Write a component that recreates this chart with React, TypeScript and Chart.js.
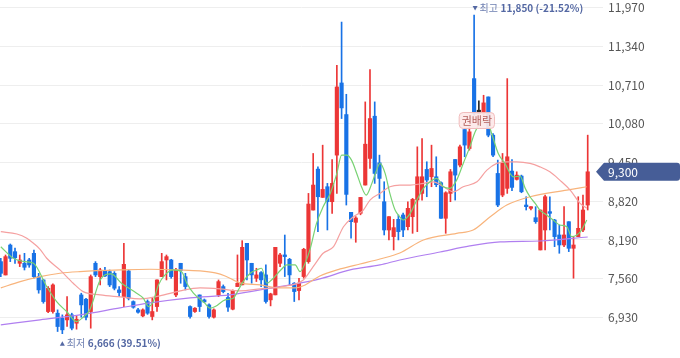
import React, { useEffect, useRef } from "react";
import { Chart, registerables } from "chart.js";

Chart.register(...registerables);

// ---- Daily candles (KRW) ----
const opens = [
  7838, 7621, 8108, 8000, 7811, 7811, 7865, 7973, 7594, 7540,
  7026, 7026, 6999, 6918, 6890, 6972, 6836, 7296, 7226, 7026,
  7811, 7594, 7692, 7675, 7648, 7378, 7269, 7686, 7188, 7053,
  6955, 7188, 6945, 7107, 7594, 7865, 7865, 7296, 7811, 7594,
  7107, 7026, 7296, 7215, 7134, 6934, 7296, 7432, 7254, 7064,
  7432, 7460, 8136, 7811, 7568, 7660, 7622, 7216, 7297, 7811,
  7947, 7876, 7487, 7367, 7595, 7838, 8677, 9343, 8883, 9057,
  8813, 9571, 10745, 10231, 8640, 8477, 8624, 9084, 9517, 10204,
  9446, 8813, 8353, 8245, 8526, 8597, 8407, 8569, 8840, 8948,
  9338, 9219, 9219, 9122, 8543, 8948, 9500, 9409, 9988, 9679,
  10816, 10302, 10248, 10518, 9896, 9273, 8921, 9030, 9311, 9176,
  9230, 8759, 8705, 8553, 8028, 8353, 8651, 8515, 8272, 8109,
  8488, 8055, 8245, 8353, 8759,
];
const highs = [
  7892, 7946, 8125, 8060, 7946, 7973, 7892, 8027, 7648, 7551,
  7432, 7475, 7053, 6972, 7269, 6999, 6955, 7324, 7242, 7621,
  7838, 7730, 7746, 7702, 7675, 7432, 8135, 7702, 7200, 7080,
  7070, 7215, 7242, 7540, 7973, 7946, 7876, 7730, 7811, 7648,
  7118, 7090, 7296, 7230, 7150, 7070, 7540, 7459, 7324, 7378,
  7947, 8179, 8136, 7811, 7730, 7676, 7784, 7324, 8071, 7974,
  8271, 7892, 7497, 7568, 8055, 8948, 9598, 9381, 9733, 9111,
  9500, 11032, 11736, 10561, 8640, 8570, 8883, 10437, 10962, 10437,
  9571, 9138, 8570, 8526, 8597, 8630, 8813, 8867, 9706, 9842,
  9463, 9733, 9544, 9138, 8975, 9338, 9500, 9733, 9988, 10031,
  11850, 10453, 10545, 10518, 9923, 9490, 9598, 10816, 9500, 9300,
  9246, 8894, 8732, 8732, 8678, 8921, 8894, 8526, 8434, 8732,
  8488, 8245, 8894, 8921, 9896,
];
const lows = [
  7594, 7621, 7838, 7810, 7757, 7702, 7746, 7567, 7324, 7161,
  7009, 7000, 6701, 6666, 6782, 6728, 6739, 6934, 6890, 6755,
  7594, 7459, 7594, 7432, 7378, 7270, 7107, 7215, 7080, 6999,
  6940, 6980, 6890, 7026, 7594, 7540, 7567, 7269, 7486, 7378,
  6918, 7010, 7026, 7170, 6918, 6920, 7269, 7330, 7026, 7053,
  7432, 7460, 7541, 7487, 7514, 7432, 7162, 7118, 7297, 7757,
  7595, 7460, 7189, 7216, 7568, 7811, 8677, 8326, 8883, 8353,
  8624, 8948, 10166, 8759, 8218, 8153, 8600, 9084, 9354, 9111,
  8867, 8272, 8190, 8028, 8191, 8245, 8353, 8299, 8326, 8840,
  8894, 9057, 9057, 8543, 8299, 8813, 8840, 9381, 9544, 9652,
  10220, 10248, 10220, 9869, 9544, 8732, 8894, 8948, 8992, 9165,
  8959, 8678, 8678, 8461, 8028, 8028, 8353, 8082, 7974, 8082,
  8001, 7568, 8245, 8326, 8678,
];
const closes = [
  7648, 7919, 7892, 7900, 7865, 7746, 7784, 7594, 7378, 7188,
  7405, 7459, 6782, 6728, 6972, 6755, 6901, 7134, 6934, 7594,
  7621, 7702, 7605, 7459, 7405, 7335, 7794, 7242, 7096, 7015,
  7053, 6999, 7026, 7540, 7838, 7919, 7594, 7702, 7692, 7432,
  6945, 7080, 7107, 7183, 6945, 7053, 7513, 7350, 7097, 7367,
  7486, 8071, 7865, 7622, 7622, 7541, 7189, 7313, 8071, 7947,
  7920, 7622, 7351, 7487, 8039, 8775, 9084, 8894, 9013, 8813,
  9111, 10680, 10339, 8932, 8488, 8548, 8883, 9749, 10166, 9273,
  9192, 8353, 8570, 8391, 8326, 8353, 8705, 8851, 9219, 9219,
  9165, 9354, 9090, 8543, 8959, 9300, 9246, 9706, 9734, 9950,
  10248, 10248, 10421, 9896, 9571, 8759, 9450, 9544, 9046, 9246,
  8975, 8732, 8732, 8488, 8678, 8894, 8624, 8245, 8109, 8272,
  8055, 8109, 8380, 8678, 9300,
];
const exRightsIndex = 101;
const exRightsLabel = "권배락";

// ---- Axis ticks ----
const yTicks = [6930, 7560, 8190, 8820, 9450, 10080, 10710, 11340, 11970];
const yMin = 6270;
const yMax = 12095;

// ---- Moving averages (candle position, value) ----
const ma5Idx = [0, 2.65, 5.1, 6.9, 9.7, 11.8, 13.9, 16, 17.4, 18.8, 21, 23.3, 25.5, 28.7, 30.1, 31.2, 32.2, 33.3, 34.7, 36.4, 38.2, 39.3, 40.7, 43.1, 44.2, 45.3, 47.4, 49.1, 50.2, 51.2, 52.7, 54.1, 55.1, 56.2, 57.2, 59.3, 60.4, 62.2, 63.2, 64.3, 65.3, 66.7, 68.1, 69.6, 71, 72, 73.1, 74.1, 75.2, 76.2, 77.2, 78.4, 79.4, 80.1, 81.2, 82.2, 83.3, 84.3, 85, 86.5, 87.9, 89.3, 90.7, 92.1, 93.5, 94.9, 96.3, 97.7, 99.1, 100.2, 101.2, 102.7, 103.7, 105.1, 106.5, 108.3, 109.7, 110.8, 111.8, 112.9, 113.9, 115.3, 116.7, 118.1, 119.6, 120.6, 121.7, 122.7, 123.8];
const ma5Val = [8081, 7893, 7838, 7811, 7432, 7188, 7026, 6863, 6934, 7053, 7540, 7640, 7487, 7324, 7243, 7107, 7188, 7459, 7622, 7703, 7675, 7487, 7324, 7162, 7081, 7107, 7216, 7243, 7378, 7513, 7649, 7703, 7730, 7487, 7540, 7714, 7784, 7784, 7675, 7812, 8028, 8461, 8731, 8948, 9273, 9570, 9570, 9489, 9273, 9056, 8921, 9111, 9327, 9436, 9273, 8948, 8677, 8568, 8515, 8624, 8840, 9030, 9137, 9192, 9056, 9030, 9164, 9436, 9705, 9949, 10085, 10139, 9923, 9598, 9436, 9218, 9229, 9030, 8893, 8786, 8677, 8596, 8515, 8434, 8406, 8244, 8271, 8352, 8515];
const ma20Idx = [0, 3.4, 5.5, 6.9, 8.3, 9.7, 12.5, 15.3, 17.4, 21, 25.2, 29.4, 33.6, 37.9, 42.1, 46.3, 50.5, 54.8, 59, 63.9, 66, 68.1, 70.3, 72.4, 74.5, 76.6, 78, 80.1, 82.2, 84.3, 86.5, 89.3, 91.4, 93.5, 95.6, 97.7, 100.6, 102.7, 104.8, 106.9, 109, 111.8, 113.9, 116, 118.1, 120.3, 122.4, 123.8];
const ma20Val = [8325, 8287, 8218, 8136, 8039, 7893, 7703, 7487, 7350, 7297, 7264, 7232, 7281, 7362, 7410, 7394, 7362, 7394, 7427, 7540, 7756, 7974, 8081, 8406, 8568, 8677, 8840, 8948, 9056, 9083, 9083, 9111, 9137, 9056, 8974, 9056, 9137, 9327, 9436, 9462, 9462, 9436, 9380, 9299, 9164, 9002, 8786, 8705];
const ma60Idx = [0, 4.1, 8.3, 12.5, 16.7, 25.2, 31.5, 37.9, 42.1, 45.3, 47.4, 50.5, 54.8, 59, 62.2, 64.3, 67.4, 71.7, 75.9, 80.1, 84.3, 89.3, 96.3, 99.8, 103.4, 106.9, 111.8, 119.6, 123.8];
const ma60Val = [7410, 7513, 7594, 7649, 7675, 7703, 7714, 7703, 7687, 7654, 7605, 7492, 7459, 7410, 7410, 7459, 7605, 7719, 7800, 7881, 7979, 8190, 8299, 8352, 8568, 8758, 8893, 9002, 9056];
const ma120Idx = [0, 8.3, 16.7, 25.2, 31.5, 40, 48.4, 54.8, 61.1, 67.4, 73.8, 80.1, 84.3, 92.8, 99.1, 105.5, 113.9, 124];
const ma120Val = [6810, 6891, 6972, 7086, 7167, 7248, 7297, 7378, 7459, 7557, 7703, 7784, 7865, 7995, 8093, 8158, 8174, 8239];

const RED = "#ec3636";
const BLUE = "#1872e6";
const DARK = "#2a2a2a";
const GREEN = "#78d273";
const PINK = "#f5a0a0";
const ORANGE = "#f8b47c";
const PURPLE = "#b07ff0";
const TAG = "#465d97";
const NOTE = "#5468a3";
const KFONT = "'Noto Sans CJK KR', 'Noto Sans', sans-serif";

const fmt = (v: number) => v.toLocaleString("en-US");

export default function App() {
  const ref = useRef<HTMLCanvasElement>(null);

  useEffect(() => {
    const canvas = ref.current;
    if (!canvas) return;
    const idx = opens.map((_, i) => i);
    const colors = idx.map((i) =>
      i === exRightsIndex ? DARK : closes[i] >= opens[i] ? RED : BLUE
    );
    const bodyData = idx.map((i) => ({ x: i, y: [opens[i], closes[i]] }));
    const wickData = idx.map((i) => ({ x: i, y: [lows[i], highs[i]] }));
    const line = (xs: number[], vs: number[], color: string, order: number) => ({
      type: "line" as const,
      data: xs.slice(0, vs.length).map((x, k) => ({ x, y: vs[k] })),
      borderColor: color,
      borderWidth: 1.2,
      pointRadius: 0,
      cubicInterpolationMode: "monotone" as const,
      fill: false,
      order,
    });

    const lastIdx = closes.length - 1;
    const lastClose = closes[lastIdx];
    let hiIdx = 0;
    let loIdx = 0;
    highs.forEach((h, i) => { if (h > highs[hiIdx]) hiIdx = i; });
    lows.forEach((l, i) => { if (l < lows[loIdx]) loIdx = i; });

    const overlay = {
      id: "overlay",
      afterDraw(chart: any) {
        const ctx = chart.ctx as CanvasRenderingContext2D;
        const xs = chart.scales.x;
        const ys = chart.scales.y;
        const area = chart.chartArea;
        ctx.save();

        // ex-rights marker
        {
          const cx = xs.getPixelForValue(exRightsIndex) - 2;
          const cy = ys.getPixelForValue(lows[exRightsIndex]) + 7;
          ctx.font = `11px ${KFONT}`;
          const w = ctx.measureText(exRightsLabel).width + 5;
          const h = 16;
          ctx.beginPath();
          (ctx as any).roundRect(cx - w / 2, cy - h / 2, w, h, 4);
          ctx.fillStyle = "rgba(253,232,232,0.92)";
          ctx.fill();
          ctx.strokeStyle = "#f1bcbc";
          ctx.lineWidth = 1;
          ctx.stroke();
          ctx.fillStyle = "#b5615e";
          ctx.textAlign = "center";
          ctx.textBaseline = "middle";
          ctx.fillText(exRightsLabel, cx, cy + 0.5);
        }

        const note = (x: number, y: number, down: boolean, word: string, text: string) => {
          ctx.fillStyle = NOTE;
          ctx.beginPath();
          if (down) {
            ctx.moveTo(x - 2.5, y - 2);
            ctx.lineTo(x + 2.5, y - 2);
            ctx.lineTo(x, y + 2.5);
          } else {
            ctx.moveTo(x - 2.5, y + 2);
            ctx.lineTo(x + 2.5, y + 2);
            ctx.lineTo(x, y - 2.5);
          }
          ctx.closePath();
          ctx.fill();
          ctx.textAlign = "left";
          ctx.textBaseline = "middle";
          let tx = x + 4.5;
          ctx.font = `10px ${KFONT}`;
          ctx.fillStyle = "#6f80b2";
          ctx.fillText(word, tx, y);
          tx += ctx.measureText(word).width + 2.5;
          ctx.font = `bold 10px ${KFONT}`;
          ctx.fillStyle = NOTE;
          ctx.fillText(text, tx, y);
        };

        const hiPct = ((lastClose - highs[hiIdx]) / highs[hiIdx]) * 100;
        const loPct = ((lastClose - lows[loIdx]) / lows[loIdx]) * 100;
        note(
          xs.getPixelForValue(hiIdx) + 1,
          ys.getPixelForValue(highs[hiIdx]) - 7,
          true,
          "최고",
          `${fmt(highs[hiIdx])} (${hiPct.toFixed(2)}%)`
        );
        note(
          xs.getPixelForValue(loIdx),
          ys.getPixelForValue(lows[loIdx]) + 10,
          false,
          "최저",
          `${fmt(lows[loIdx])} (${loPct.toFixed(2)}%)`
        );

        // last price tag
        {
          const y = ys.getPixelForValue(lastClose);
          const tip = area.right - 7;
          const left = area.right + 1;
          const right = chart.width;
          const h = 18;
          const r = 3;
          ctx.beginPath();
          ctx.moveTo(tip, y);
          ctx.lineTo(left, y - h / 2);
          ctx.lineTo(right - r, y - h / 2);
          ctx.quadraticCurveTo(right, y - h / 2, right, y - h / 2 + r);
          ctx.lineTo(right, y + h / 2 - r);
          ctx.quadraticCurveTo(right, y + h / 2, right - r, y + h / 2);
          ctx.lineTo(left, y + h / 2);
          ctx.closePath();
          ctx.fillStyle = TAG;
          ctx.fill();
          ctx.fillStyle = "#ffffff";
          ctx.font = `12px ${KFONT}`;
          ctx.textAlign = "left";
          ctx.textBaseline = "middle";
          ctx.fillText(fmt(lastClose), area.right + 5, y + 0.5);
        }
        ctx.restore();
      },
    };

    const chart = new Chart(canvas, {
      type: "bar",
      data: {
        datasets: [
          {
            type: "bar",
            data: bodyData as any,
            backgroundColor: colors,
            barThickness: 3.5,
            grouped: false,
            minBarLength: 1,
            borderWidth: 0,
            order: 5,
          },
          {
            type: "bar",
            data: wickData as any,
            backgroundColor: colors,
            barThickness: 1,
            grouped: false,
            borderWidth: 0,
            order: 6,
          },
          line(ma5Idx, ma5Val, GREEN, 0),
          line(ma20Idx, ma20Val, PINK, 1),
          line(ma60Idx, ma60Val, ORANGE, 2),
          line(ma120Idx, ma120Val, PURPLE, 3),
        ] as any,
      },
      options: {
        animation: false,
        responsive: false,
        devicePixelRatio: 1,
        events: [],
        layout: { padding: 0 },
        plugins: { legend: { display: false }, tooltip: { enabled: false } },
        scales: {
          x: {
            type: "linear",
            display: false,
            offset: false,
            min: -0.17,
            max: 127.23,
          },
          y: {
            position: "right",
            min: yMin,
            max: yMax,
            afterBuildTicks: (s: any) => {
              s.ticks = yTicks.map((v) => ({ value: v }));
            },
            afterFit: (s: any) => {
              s.width = 77;
              s.paddingTop = 0;
              s.paddingBottom = 0;
            },
            ticks: {
              autoSkip: false,
              padding: 5,
              color: "#555555",
              font: { family: KFONT, size: 12 },
              callback: (v: any) => fmt(Number(v)),
            },
            grid: { color: "#eeeeee", drawTicks: false, lineWidth: 1 },
            border: { display: false },
          },
        },
      } as any,
      plugins: [overlay],
    });
    return () => chart.destroy();
  }, []);

  return (
    <div style={{ position: "absolute", left: 0, top: 0, width: 680, height: 358, background: "#fff" }}>
      <canvas ref={ref} width={680} height={358} style={{ display: "block" }} />
    </div>
  );
}
